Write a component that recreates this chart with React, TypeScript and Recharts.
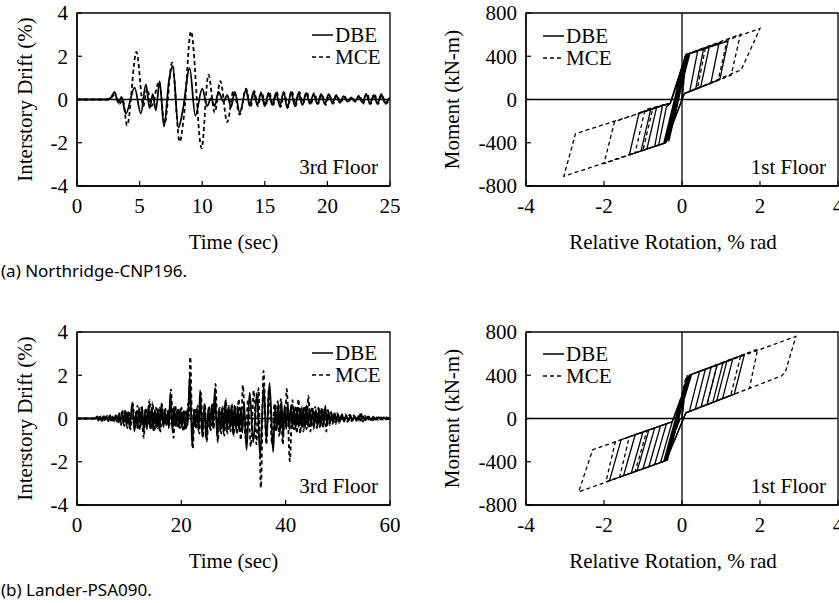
import React from "react"
import { LineChart, Line, XAxis, YAxis, ReferenceArea, ReferenceLine, Legend } from "recharts"

const SERIF = '"Liberation Serif", "Times New Roman", serif'
const FS = 21

// (a) Northridge-CNP196 — 3rd floor drift history [time s, drift %]
const northridgeDriftDBE: [number, number][] = [
  [0, 0], [2.3, 0], [2.7, 0.08], [3.0, 0.35], [3.3, -0.15], [3.55, 0.12], [3.9, -0.65], [4.6, 0.55],
  [5.1, -0.65], [5.5, 0.7], [5.8, -0.4], [6.05, 0.25], [6.3, -0.5], [6.6, 0.85], [6.95, -1.25], [7.35, 0.9],
  [7.65, 1.55], [8.1, -1.3], [8.45, -0.5], [9.0, 1.45], [9.45, -0.75], [10.0, 0.5], [10.4, -0.3], [10.7, 0.05],
  [11.0, -0.3], [11.3, 0.35], [11.7, -0.1], [12.0, 0.2], [12.3, -0.35], [12.6, 0.35], [13.0, -0.6], [13.5, 0.45],
  [13.8, -0.3], [14.1, 0.35], [14.4, -0.25], [14.7, 0.3], [15.0, -0.3], [15.3, 0.3], [15.6, -0.25], [15.9, 0.3],
  [16.2, -0.3], [16.5, 0.35], [16.8, -0.4], [17.1, 0.35], [17.4, -0.3], [17.7, 0.3], [18.0, -0.25], [18.3, 0.3],
  [18.6, -0.2], [18.9, 0.25], [19.2, -0.2], [19.5, 0.25], [19.8, -0.2], [20.1, 0.25], [20.4, -0.15], [20.7, 0.2],
  [21.0, -0.15], [21.3, 0.15], [21.6, -0.1], [21.9, 0.1], [22.2, -0.1], [22.5, 0.15], [22.8, -0.15], [23.1, 0.25],
  [23.4, -0.2], [23.7, 0.2], [24.0, -0.2], [24.3, 0.25], [24.6, -0.15], [25, 0.1],
]
const northridgeDriftMCE: [number, number][] = [
  [0, 0], [2.5, 0], [3.0, 0.2], [3.4, -0.2], [3.65, 0], [4.0, -1.2], [4.75, 2.2], [5.3, -0.3], [5.6, 0.5],
  [5.95, -0.3], [6.55, 0.8], [7.0, -1.1], [7.6, 1.7], [8.2, -1.95], [8.55, -0.7], [9.1, 3.15], [9.95, -2.25],
  [10.5, 1.15], [11.0, -0.6], [11.45, 0.85], [12.0, -1.05], [12.5, 0.4], [13.0, -0.7], [13.5, 0.5], [13.85, -0.35],
  [14.15, 0.4], [14.45, -0.3], [14.75, 0.35], [15.05, -0.3], [15.35, 0.35], [15.65, -0.3], [15.95, 0.35],
  [16.25, -0.35], [16.55, 0.3], [16.85, -0.35], [17.15, 0.4], [17.45, -0.3], [17.75, 0.35], [18.05, -0.2],
  [18.35, 0.35], [18.65, -0.25], [18.95, 0.3], [19.25, -0.2], [19.55, 0.25], [19.85, -0.25], [20.15, 0.2],
  [20.45, -0.2], [20.75, 0.2], [21.05, -0.15], [21.35, 0.15], [21.65, -0.1], [21.95, 0.1], [22.25, -0.1],
  [22.55, 0.2], [22.85, -0.2], [23.15, 0.3], [23.45, -0.2], [23.75, 0.25], [24.05, -0.2], [24.35, 0.2],
  [24.65, -0.2], [25, 0.05],
]

// (a) 1st floor moment vs relative rotation [rotation % rad, moment kN-m]
const northridgeHystDBE: [number, number][] = [
  [0, 0], [0.08, 300], [-0.25, -250], [0.1, 380], [-0.35, -350], [0.1, 415], [0.4, 445], [0.2, 75], [0.06, 55],
  [-0.42, -400], [-0.6, -423], [-0.4, -70], [-0.3, -35], [0.1, 415], [0.7, 491], [0.48, 114], [0.06, 55],
  [-0.42, -400], [-0.9, -459], [-0.65, -70], [-0.3, -35], [0.1, 415], [1.18, 540], [0.97, 184], [0.06, 55],
  [-0.42, -400], [-1.35, -512], [-1.1, -123], [-0.3, -35], [0.1, 415], [0.95, 523], [0.74, 151], [0.06, 55],
  [-0.42, -400], [-1.05, -476], [-0.8, -88], [-0.3, -35], [0.1, 415], [0.55, 465], [0.35, 95], [0.06, 55],
  [-0.42, -400], [-0.7, -435], [-0.5, -52], [-0.3, -35], [0.15, 420], [-0.4, -395], [0.2, 420], [-0.45, -410],
  [0.12, 405], [-0.47, -405], [0.08, 400], [-0.36, -370], [0.18, 415], [-0.34, -390], [0.06, 360],
  [-0.33, -340], [0.03, 300], [-0.28, -280], [0.0, 220], [-0.22, -200], [-0.04, 120], [-0.18, -110],
  [-0.38, -380], [0.05, 330], [-0.3, -300], [0.0, 250], [-0.2, -180], [-0.05, 100], [-0.1, 0],
]
const northridgeHystMCE: [number, number][] = [
  [0, 0], [0.1, 350], [-0.3, -300], [0.1, 415], [0.6, 480], [0.4, 108], [0.06, 55], [-0.42, -400],
  [-1.0, -470], [-0.75, -83], [-0.3, -35], [0.1, 415], [1.5, 604], [1.26, 225], [0.06, 55], [-0.42, -400],
  [-3.03, -710], [-2.73, -316], [-0.3, -35], [0.1, 415], [2.0, 657], [1.52, 275], [0.06, 55], [-0.42, -400],
  [-2.0, -593], [-1.73, -205], [-0.3, -35], [0.1, 415], [1.15, 540], [0.93, 180], [0.06, 55], [-0.42, -400],
  [-1.2, -492], [-0.95, -95], [-0.3, -35], [0.1, 400], [-0.35, -350], [0.05, 300], [-0.2, -150], [-0.08, 0],
]

// (b) Lander-PSA090 — 3rd floor drift history [time s, drift %]
const landerDriftDBE: [number, number][] = [
  [0, 0], [3.5, 0], [3.8, 0.08], [4.1, -0.1], [4.4, 0.08], [4.7, -0.1], [5.0, 0.1], [5.3, -0.08], [5.6, 0.1],
  [5.9, -0.1], [6.2, 0.12], [6.5, -0.1], [6.8, 0.1], [7.1, -0.12], [7.4, 0.15], [7.7, -0.15], [8.0, 0.2],
  [8.3, -0.2], [8.6, 0.3], [8.9, -0.25], [9.2, 0.35], [9.5, -0.35], [9.8, 0.3], [10.1, -0.45], [10.6, 0.75],
  [11.0, -0.6], [11.3, 0.3], [11.6, -0.45], [11.9, 0.5], [12.2, -0.4], [12.5, 0.55], [12.8, -0.6], [13.1, 0.4],
  [13.4, -0.5], [13.7, 0.6], [14.0, -0.45], [14.3, 0.5], [14.6, -0.55], [14.9, 0.4], [15.2, -0.4], [15.5, 0.45],
  [15.8, -0.55], [16.2, 0.7], [16.5, -0.35], [16.8, 0.4], [17.1, -0.3], [17.4, 0.35], [17.6, -0.45], [17.9, 1.2],
  [18.3, -0.6], [18.6, 0.55], [18.9, -0.35], [19.2, 0.4], [19.5, -0.4], [19.8, 0.45], [20.1, -0.4], [20.4, 0.35],
  [20.7, -0.5], [21.0, 0.3], [21.25, -0.3], [21.6, 2.0], [22.1, -1.3], [22.4, 0.4], [22.7, -0.4], [23.0, 0.5],
  [23.3, -0.6], [23.6, 1.3], [24.0, -0.8], [24.4, 0.6], [24.8, -1.0], [25.2, 0.5], [25.5, -0.5], [25.8, 0.6],
  [26.1, -0.4], [26.4, 1.3], [26.9, -0.9], [27.2, 0.45], [27.5, -0.6], [27.8, 0.5], [28.1, -0.7], [28.4, 0.8],
  [28.7, -0.6], [29.0, 0.55], [29.3, -0.5], [29.6, 0.6], [29.9, -0.7], [30.2, 0.6], [30.5, -0.5], [30.8, 0.55],
  [31.1, -0.6], [31.4, 0.5], [31.7, -0.65], [32.0, 0.75], [32.5, -1.45], [33.1, 1.2], [33.8, -1.1], [34.5, 1.2],
  [35.1, -1.75], [35.8, 1.5], [36.3, -1.0], [36.9, 1.65], [37.6, -1.55], [38.0, 0.6], [38.3, -0.5], [38.6, 0.7],
  [38.9, -0.7], [39.2, 0.8], [39.5, -0.9], [39.8, 0.6], [40.1, -0.5], [40.4, 0.7], [40.7, -0.5], [41.0, 0.6],
  [41.3, -0.45], [41.6, 0.5], [41.9, -0.5], [42.2, 0.5], [42.5, -0.4], [42.8, 0.45], [43.1, -0.4], [43.4, 0.5],
  [43.7, -0.45], [44.0, 0.6], [44.3, -0.4], [44.6, 0.45], [44.9, -0.35], [45.2, 0.45], [45.5, -0.3], [45.8, 0.4],
  [46.1, -0.4], [46.4, 0.45], [46.7, -0.35], [47.0, 0.4], [47.3, -0.3], [47.6, 0.6], [47.9, -0.3], [48.2, 0.35],
  [48.5, -0.25], [48.8, 0.25], [49.1, -0.2], [49.4, 0.25], [49.7, -0.2], [50.0, 0.2], [50.4, -0.15], [50.8, 0.2],
  [51.2, -0.15], [51.6, 0.15], [52.0, -0.12], [52.4, 0.15], [52.8, -0.1], [53.2, 0.12], [53.6, -0.1], [54.0, 0.12],
  [54.4, -0.1], [54.8, 0.1], [55.3, -0.08], [55.8, 0.1], [56.3, -0.07], [56.8, 0.08], [57.3, -0.06], [57.8, 0.06],
  [58.3, -0.05], [58.8, 0.05], [59.3, -0.04], [60, 0],
]
const landerDriftMCE: [number, number][] = [
  [0, 0], [3.6, 0], [3.95, 0.1], [4.25, -0.12], [4.55, 0.1], [4.85, -0.12], [5.15, 0.12], [5.45, -0.1],
  [5.75, 0.12], [6.05, -0.12], [6.35, 0.15], [6.65, -0.12], [6.95, 0.12], [7.25, -0.15], [7.55, 0.2],
  [7.85, -0.2], [8.15, 0.25], [8.45, -0.3], [8.75, 0.35], [9.05, -0.35], [9.35, 0.4], [9.65, -0.45],
  [9.95, 0.35], [10.25, -0.5], [10.7, 0.7], [11.1, -0.5], [11.6, 0.6], [11.95, -0.55], [12.3, 0.5],
  [12.8, -0.9], [13.15, 0.5], [13.5, -0.4], [13.9, 0.85], [14.2, -0.5], [14.5, 0.75], [14.85, -0.6],
  [15.15, 0.5], [15.45, -0.45], [15.8, 0.5], [16.0, -0.6], [16.3, 0.65], [16.65, -0.4], [16.95, 0.45],
  [17.25, -0.35], [17.55, 0.4], [17.75, -0.3], [18.0, 1.35], [18.5, -0.9], [18.85, 0.6], [19.15, -0.4],
  [19.45, 0.45], [19.75, -0.45], [20.05, 0.5], [20.35, -0.6], [20.65, 0.4], [20.95, -0.5], [21.3, 0.7],
  [21.45, 0.1], [21.7, 2.85], [22.2, -1.4], [22.55, 0.5], [22.85, -0.5], [23.15, 0.6], [23.45, -0.7],
  [23.75, 1.2], [24.15, -0.9], [24.5, 0.7], [24.9, -1.05], [25.3, 0.55], [25.65, -0.55], [25.95, 0.65],
  [26.2, -0.5], [26.55, 1.6], [27.0, -1.1], [27.35, 0.5], [27.65, -0.7], [27.95, 0.55], [28.25, -0.8],
  [28.55, 0.9], [28.85, -0.7], [29.15, 0.6], [29.45, -0.6], [29.75, 0.65], [30.05, -0.8], [30.35, 0.6],
  [30.65, -0.7], [31.0, 0.9], [31.4, -1.0], [31.8, 1.55], [32.3, -0.9], [32.8, 0.9], [33.3, -1.3], [33.9, 1.3],
  [34.4, -1.2], [34.8, 1.4], [35.25, -3.2], [35.75, 2.2], [36.3, -1.2], [36.8, 1.4], [37.4, -1.2], [37.85, 0.7],
  [38.15, -0.6], [38.45, 0.8], [38.75, -0.8], [39.05, 0.9], [39.45, -1.2], [39.8, 0.5], [39.95, 0.3],
  [40.2, 1.37], [40.8, -1.97], [41.3, 0.85], [41.6, -0.5], [41.9, 0.6], [42.15, -0.7], [42.45, 0.9],
  [42.8, -0.7], [43.1, 0.55], [43.4, -0.6], [43.75, 0.6], [44.0, -0.5], [44.35, 1.06], [44.75, -0.6],
  [45.05, 0.55], [45.35, -0.5], [45.65, 0.55], [45.95, -0.45], [46.25, 0.5], [46.55, -0.4], [46.85, 0.5],
  [47.15, -0.45], [47.45, 0.5], [47.8, -0.6], [48.1, 0.4], [48.4, -0.3], [48.7, 0.3], [49.0, -0.25],
  [49.3, 0.3], [49.6, -0.25], [49.9, 0.25], [50.25, -0.2], [50.65, 0.2], [51.05, -0.15], [51.45, 0.2],
  [51.85, -0.15], [52.25, 0.18], [52.65, -0.12], [53.05, 0.15], [53.45, -0.12], [53.85, 0.12], [54.1, -0.1],
  [54.4, 0.3], [54.8, -0.15], [55.2, 0.12], [55.7, -0.1], [56.2, 0.1], [56.7, -0.08], [57.2, 0.08],
  [57.7, -0.06], [58.2, 0.06], [58.7, -0.05], [59.2, 0.05], [60, 0],
]

// (b) 1st floor moment vs relative rotation [rotation % rad, moment kN-m]
const landerHystDBE: [number, number][] = [
  [0, 0], [0.1, 320], [-0.3, -300], [0.15, 380], [-0.38, -360], [0.19, 401], [0.45, 436], [0.19, 66], [0.1, 53],
  [-0.41, -389], [-0.55, -407], [-0.25, -30], [0.19, 401], [0.75, 475], [0.49, 107], [0.1, 53], [-0.41, -389],
  [-0.85, -446], [-0.55, -68], [-0.25, -30], [0.19, 401], [1.05, 515], [0.79, 149], [0.1, 53], [-0.41, -389],
  [-1.3, -504], [-1.0, -125], [-0.25, -30], [0.19, 401], [1.6, 593], [1.34, 225], [0.1, 53], [-0.41, -389],
  [-1.86, -576], [-1.56, -196], [-0.25, -30], [0.19, 401], [1.3, 549], [1.04, 184], [0.1, 53], [-0.41, -389],
  [-1.5, -530], [-1.2, -151], [-0.25, -30], [0.19, 401], [1.15, 529], [0.89, 163], [0.1, 53], [-0.41, -389],
  [-1.15, -484], [-0.85, -106], [-0.25, -30], [0.19, 401], [0.9, 495], [0.64, 128], [0.1, 53], [-0.41, -389],
  [-1.0, -465], [-0.7, -87], [-0.25, -30], [0.19, 401], [0.6, 456], [0.34, 86], [0.1, 53], [-0.41, -389],
  [-0.7, -426], [-0.4, -49], [-0.25, -30], [0.19, 401], [-0.45, -395], [0.22, 405], [-0.38, -392],
  [0.14, 400], [-0.47, -400], [0.25, 410], [-0.42, -385], [0.17, 390], [-0.4, -380], [0.12, 350],
  [-0.33, -320], [0.06, 280], [-0.25, -230], [0.0, 150], [-0.15, -100], [-0.05, 0],
]
const landerHystMCE: [number, number][] = [
  [0, 0], [0.1, 380], [-0.35, -330], [0.19, 401], [0.9, 495], [0.64, 128], [0.1, 53], [-0.41, -389],
  [-1.2, -491], [-0.9, -112], [-0.25, -30], [0.19, 401], [1.94, 642], [1.73, 280], [0.1, 53], [-0.41, -389],
  [-1.95, -586], [-1.71, -215], [-0.25, -30], [0.19, 401], [2.92, 759], [2.65, 430], [2.56, 395], [0.1, 53],
  [-0.41, -389], [-2.65, -679], [-2.29, -289], [-0.25, -30], [0.19, 401], [1.5, 575], [1.25, 214], [0.1, 53],
  [-0.41, -389], [-1.6, -543], [-1.35, -168], [-0.25, -30], [0.1, 300], [-0.2, -150], [-0.05, 0],
]

const driftTicks = [-4, -2, 0, 2, 4]
const momentTicks = [-800, -400, 0, 400, 800]
const rotationTicks = [-4, -2, 0, 2, 4]
const northridgeTimeTicks = [0, 5, 10, 15, 20, 25]
const landerTimeTicks = [0, 20, 40, 60]
const seriesNames = ["DBE", "MCE"]

const toPoints = (rows: [number, number][]) => rows.map(([x, y]) => ({ x, y }))

// legend rows: short line sample + series name, as html so the text is plain
function LegendBox() {
  return (
    <div style={{ fontFamily: SERIF, fontSize: FS, color: "#000", lineHeight: "22px" }}>
      {seriesNames.map((name, i) => (
        <div key={name} style={{ display: "flex", alignItems: "center", height: 22, whiteSpace: "nowrap" }}>
          <svg width={21} height={4} style={{ marginRight: 2 }}>
            <line x1={0} x2={21} y1={2} y2={2} stroke="#000" strokeWidth={1.5}
              strokeDasharray={i ? "4 3" : undefined} />
          </svg>
          <span>{name}</span>
        </div>
      ))}
    </div>
  )
}

interface PanelProps {
  left: number
  top: number
  width: number
  marginLeft: number
  marginRight: number
  yWidth: number
  yLabelOffset: number
  xDomain: [number, number]
  xTicks: number[]
  yDomain: [number, number]
  yTicks: number[]
  xLabel: string
  xLabelShift: number
  yLabel: string
  floor: string
  dbe: [number, number][]
  mce: [number, number][]
  curve: "monotone" | "linear"
  lineWidth: number
  cross: boolean
  legendLeft: number
  legendTop: number
}

function Panel(p: PanelProps) {
  const textStyle = { fill: "#000", fontSize: FS, fontFamily: SERIF }
  return (
    <div style={{ position: "absolute", left: p.left, top: p.top }}>
      <LineChart width={p.width} height={260}
        margin={{ top: 13, right: p.marginRight, bottom: 0, left: p.marginLeft }}>
        <XAxis type="number" dataKey="x" domain={p.xDomain} ticks={p.xTicks} interval={0} allowDataOverflow
          height={74} tickSize={-5} tickMargin={17}
          axisLine={{ stroke: "#000", strokeWidth: 1.3 }} tickLine={{ stroke: "#000", strokeWidth: 1.2 }}
          tick={textStyle}
          label={{ value: p.xLabel, position: "insideBottom", offset: 11, dx: p.xLabelShift, ...textStyle }} />
        <YAxis type="number" domain={p.yDomain} ticks={p.yTicks} interval={0} allowDataOverflow
          width={p.yWidth} tickSize={-5} tickMargin={14}
          axisLine={{ stroke: "#000", strokeWidth: 1.3 }} tickLine={{ stroke: "#000", strokeWidth: 1.2 }}
          tick={textStyle}
          label={{ value: p.yLabel, angle: -90, position: "insideLeft", offset: p.yLabelOffset,
            style: { textAnchor: "middle" }, ...textStyle }} />
        <ReferenceArea x1={p.xDomain[0]} x2={p.xDomain[1]} y1={p.yDomain[0]} y2={p.yDomain[1]}
          fill="none" fillOpacity={0} stroke="#000" strokeWidth={1.3}
          label={{ value: p.floor, position: "insideBottomRight", offset: 12, ...textStyle }} />
        <ReferenceLine y={0} stroke="#000" strokeWidth={1.3} />
        {p.cross && <ReferenceLine x={0} stroke="#000" strokeWidth={1.3} />}
        <Line data={toPoints(p.dbe)} dataKey="y" name="DBE" type={p.curve} stroke="#000"
          strokeWidth={p.lineWidth} dot={false} activeDot={false} isAnimationActive={false} />
        <Line data={toPoints(p.mce)} dataKey="y" name="MCE" type={p.curve} stroke="#000"
          strokeWidth={p.lineWidth} strokeDasharray="4 3" dot={false} activeDot={false} isAnimationActive={false} />
        <Legend layout="vertical" align="center" verticalAlign="middle"
          wrapperStyle={{ left: p.legendLeft, top: p.legendTop, width: 100, height: 48 }}
          content={() => <LegendBox />} />
      </LineChart>
    </div>
  )
}

const captionStyle: React.CSSProperties = {
  position: "absolute", left: 1, fontFamily: '"Noto Sans", sans-serif', fontSize: 17,
  lineHeight: "17px", color: "#000", whiteSpace: "nowrap",
}

export default function App() {
  const drift = {
    left: 0, width: 400, marginLeft: 17, marginRight: 10, yWidth: 60, yLabelOffset: 8,
    yDomain: [-4, 4] as [number, number], yTicks: driftTicks, xLabel: "Time (sec)", xLabelShift: 0,
    yLabel: "Interstory Drift (%)", floor: "3rd Floor", curve: "monotone" as const, lineWidth: 1.8,
    cross: false, legendLeft: 312,
  }
  const hyst = {
    left: 420, width: 450, marginLeft: 26, marginRight: 32, yWidth: 80, yLabelOffset: 6,
    xDomain: [-4, 4] as [number, number], xTicks: rotationTicks,
    yDomain: [-800, 800] as [number, number], yTicks: momentTicks,
    xLabel: "Relative Rotation, % rad", xLabelShift: -9, yLabel: "Moment (kN-m)", floor: "1st Floor",
    curve: "linear" as const, lineWidth: 1.3, cross: true, legendLeft: 123,
  }
  return (
    <div style={{ position: "absolute", left: 0, top: 0, width: 839, height: 603, overflow: "hidden", background: "#fff" }}>
      <Panel {...drift} top={0} xDomain={[0, 25]} xTicks={northridgeTimeTicks}
        dbe={northridgeDriftDBE} mce={northridgeDriftMCE} legendTop={24} />
      <Panel {...hyst} top={0} dbe={northridgeHystDBE} mce={northridgeHystMCE} legendTop={25} />
      <div style={{ ...captionStyle, top: 262 }}>(a) Northridge-CNP196.</div>
      <Panel {...drift} top={319} xDomain={[0, 60]} xTicks={landerTimeTicks}
        dbe={landerDriftDBE} mce={landerDriftMCE} legendTop={23} />
      <Panel {...hyst} top={319} dbe={landerHystDBE} mce={landerHystMCE} legendTop={24} />
      <div style={{ ...captionStyle, top: 581 }}>(b) Lander-PSA090.</div>
    </div>
  )
}
